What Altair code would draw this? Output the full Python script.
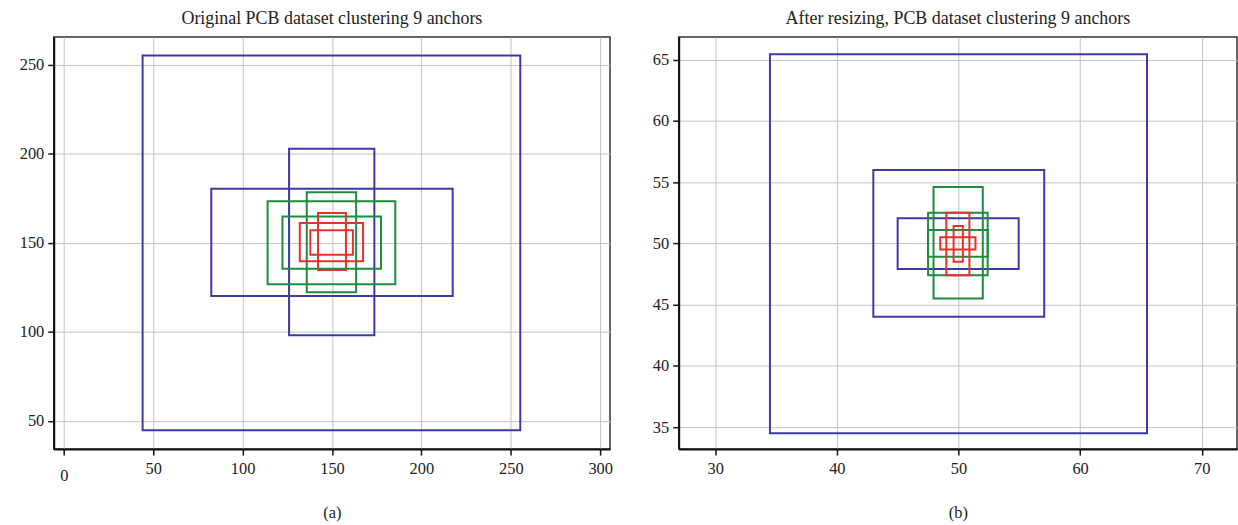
import altair as alt
import pandas as pd

# ---- data: anchor boxes (x0, x1, y0, y1) ----
left_group = ["blue", "blue", "blue", "green", "green", "green", "red", "red", "red"]
left_x0 = [44.1, 82.5, 126.0, 114.0, 135.9, 122.3, 142.2, 132.0, 137.9]
left_x1 = [255.3, 217.5, 173.7, 185.4, 163.5, 177.4, 157.8, 167.4, 161.7]
left_y0 = [44.8, 120.2, 98.1, 126.7, 122.3, 135.5, 134.7, 139.7, 143.3]
left_y1 = [255.2, 180.3, 202.8, 173.4, 178.4, 164.8, 166.7, 161.1, 157.0]

right_group = ["blue", "blue", "blue", "green", "green", "green", "red", "red", "red"]
right_x0 = [34.5, 43.0, 45.0, 47.95, 47.5, 47.5, 49.0, 49.6, 48.5]
right_x1 = [65.5, 57.05, 54.95, 52.0, 52.4, 52.4, 50.9, 50.36, 51.4]
right_y0 = [34.5, 44.0, 47.9, 45.5, 47.4, 48.9, 47.4, 48.5, 49.5]
right_y1 = [65.45, 56.0, 52.06, 54.6, 52.5, 51.1, 52.5, 51.43, 50.5]

left_xticks = [0, 50, 100, 150, 200, 250, 300]
left_yticks = [50, 100, 150, 200, 250]
right_xticks = [30, 40, 50, 60, 70]
right_yticks = [35, 40, 45, 50, 55, 60, 65]

titles = ["Original PCB dataset clustering 9 anchors",
          "After resizing, PCB dataset clustering 9 anchors"]
captions = ["(a)", "(b)"]

groups = ["blue", "green", "red"]
colors = ["#3d3aa6", "#1f8c3c", "#e8302c"]

FONT = "Liberation Serif"


def panel(gr, x0, x1, y0, y1, xdom, ydom, xt, yt, title, caption, w, h, zero_drop):
    df = pd.DataFrame({"g": gr, "x0": x0, "x1": x1, "y0": y0, "y1": y1,
                       "order": list(range(len(gr)))})
    if zero_drop:
        lp = {"condition": {"test": "datum.value == 0", "value": 13}, "value": 6}
        tp = 20
    else:
        lp = 6
        tp = 27
    xaxis = alt.Axis(values=xt, grid=True, gridColor="#c4c4c4", gridWidth=1,
                     domainColor="#111", domainWidth=2, tickColor="#111",
                     tickSize=6, tickWidth=1.5, labelFont=FONT, labelFontSize=16.5,
                     labelColor="#222", labelPadding=lp,
                     title=caption, titleFont=FONT, titleFontSize=16.5,
                     titleFontWeight="normal", titleColor="#222", titlePadding=tp)
    yaxis = alt.Axis(values=yt, grid=True, gridColor="#c4c4c4", gridWidth=1,
                     domainColor="#111", domainWidth=2, tickColor="#111",
                     tickSize=6, tickWidth=1.5, labelFont=FONT, labelFontSize=16.5,
                     labelColor="#222", labelPadding=4, title=None,
                     minExtent=40, maxExtent=40)
    return alt.Chart(df).mark_rect(filled=False, strokeWidth=2).encode(
        x=alt.X("x0:Q", scale=alt.Scale(domain=xdom, nice=False, zero=False), axis=xaxis),
        x2="x1:Q",
        y=alt.Y("y0:Q", scale=alt.Scale(domain=ydom, nice=False, zero=False), axis=yaxis),
        y2="y1:Q",
        color=alt.Color("g:N", scale=alt.Scale(domain=groups, range=colors), legend=None),
        order="order:Q",
    ).properties(
        width=w, height=h,
        title=alt.TitleParams(title, font=FONT, fontSize=18, fontWeight="normal",
                              color="#222", offset=9),
    )


left = panel(left_group, left_x0, left_x1, left_y0, left_y1,
             [-5.6, 305.5], [34.2, 265.5], left_xticks, left_yticks,
             titles[0], captions[0], 559, 414, True)
right = panel(right_group, right_x0, right_x1, right_y0, right_y1,
              [27.0, 72.9], [33.2, 66.85], right_xticks, right_yticks,
              titles[1], captions[1], 561, 414, False)

chart = alt.hconcat(left, right, spacing=24).properties(
    padding={"left": 13, "top": 8, "right": 0, "bottom": 0},
    background="white",
).configure_view(stroke="#333", strokeWidth=1.5)

chart.save("out.html", embed_options={"renderer": "svg", "actions": False})
